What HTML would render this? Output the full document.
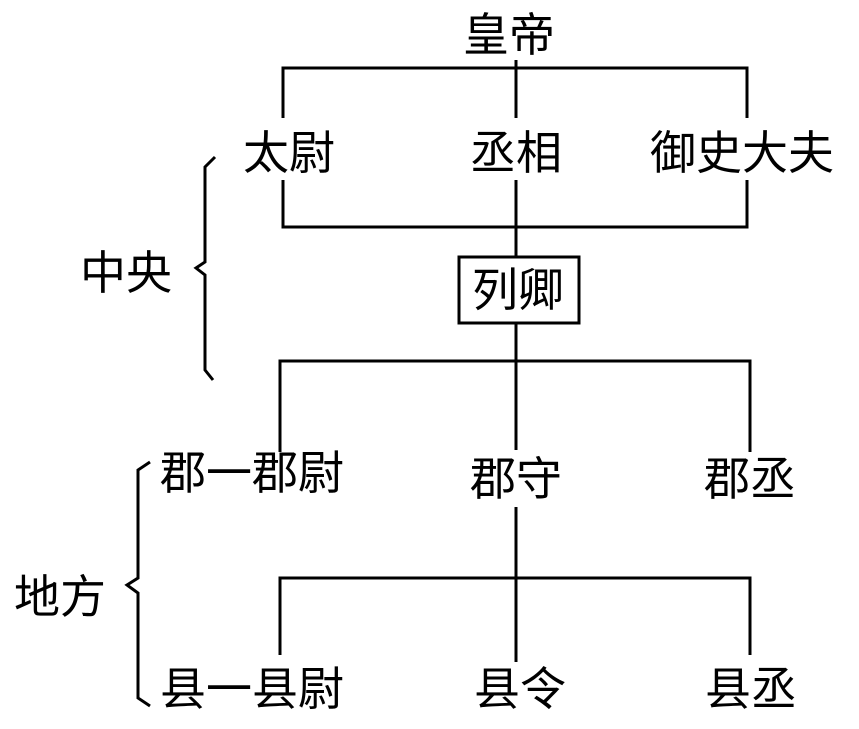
<!DOCTYPE html>
<html><head><meta charset="utf-8"><style>
body{margin:0;background:#fff;width:859px;height:729px;overflow:hidden;position:relative}
.t{position:absolute;font-family:"Liberation Sans","Noto Sans CJK SC",sans-serif;font-size:46px;line-height:46px;color:#000;white-space:nowrap}
svg{position:absolute;left:0;top:0}
</style></head><body>
<svg width="859" height="729" fill="none" stroke="#000" stroke-width="3">
<path d="M283 118V68H747V118"/>
<path d="M516 60V118"/>
<path d="M283 180V227H747V180"/>
<path d="M516 180V257"/>
<rect x="459" y="257" width="120" height="66"/>
<path d="M516 323V450"/>
<path d="M280 452V361H750V452"/>
<path d="M516 507V662"/>
<path d="M280 655V578H750V655"/>
<path d="M215 157L205 167V262L196 268L205 275V370L213 380"/>
<path d="M150 462L138 470V578L127 585L138 593V698L150 706"/>
</svg>
<div class="t" style="left:463px;top:12px">皇帝</div>
<div class="t" style="left:243px;top:130px">太尉</div>
<div class="t" style="left:470px;top:130px">丞相</div>
<div class="t" style="left:650px;top:130px">御史大夫</div>
<div class="t" style="left:472px;top:267px">列卿</div>
<div class="t" style="left:80px;top:250px">中央</div>
<div class="t" style="left:14px;top:574px">地方</div>
<div class="t" style="left:160px;top:450px">郡一郡尉</div>
<div class="t" style="left:470px;top:456px">郡守</div>
<div class="t" style="left:704px;top:456px">郡丞</div>
<div class="t" style="left:160px;top:666px">县一县尉</div>
<div class="t" style="left:474px;top:666px">县令</div>
<div class="t" style="left:705px;top:666px">县丞</div>
</body></html>
